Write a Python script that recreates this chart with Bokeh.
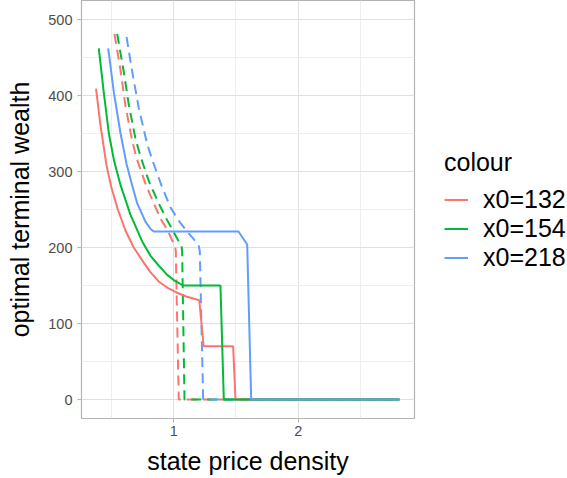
from bokeh.plotting import figure
from bokeh.layouts import row
from bokeh.models import Range1d, FixedTicker, Legend, LegendItem
from bokeh.embed import file_html
from bokeh.resources import INLINE

# ---- data ----
series_labels = ["x0=132", "x0=154", "x0=218"]
series_colors = ["#F8766D", "#00BA38", "#619CFF"]

# solid lines
solid_132_x = [0.375, 0.411, 0.459, 0.50, 0.55, 0.612, 0.678, 0.746, 0.81, 0.88, 0.95, 1.014, 1.10, 1.205, 1.24, 1.477, 1.496, 2.814]
solid_132_y = [409, 360, 308, 278, 250, 222, 200, 183, 168, 155, 147, 141.5, 135.5, 130.5, 70, 70, 0, 0]

solid_154_x = [0.397, 0.437, 0.478, 0.52, 0.572, 0.652, 0.746, 0.813, 0.88, 0.947, 1.01, 1.075, 1.375, 1.402, 2.814]
solid_154_y = [462, 404, 350, 314, 282, 243, 208, 189, 176, 164, 156, 150, 150, 0, 0]

solid_218_x = [0.473, 0.518, 0.572, 0.62, 0.665, 0.706, 0.772, 0.815, 0.839, 1.52, 1.59, 1.622, 2.814]
solid_218_y = [462, 404, 350, 310, 282, 258, 234, 224, 221, 221, 204, 0, 0]

# dashed lines
dashed_132_x = [0.523, 0.572, 0.612, 0.666, 0.70, 0.77, 0.839, 0.90, 0.947, 0.985, 1.01, 1.016, 1.04, 2.814]
dashed_132_y = [481, 433, 386, 340, 318, 285, 258, 236, 224, 210, 203, 195, 0, 0]

dashed_154_x = [0.545, 0.598, 0.638, 0.692, 0.732, 0.80, 0.879, 0.94, 1.0, 1.04, 1.062, 1.067, 1.086, 2.814]
dashed_154_y = [481, 431, 388, 343, 320, 287, 258, 238, 220, 208, 203, 195, 0, 0]

dashed_218_x = [0.62, 0.666, 0.719, 0.786, 0.834, 0.90, 0.973, 1.04, 1.108, 1.16, 1.20, 1.209, 1.236, 2.814]
dashed_218_y = [477, 431, 383, 336, 312, 282, 253, 235, 221, 211, 203, 195, 0, 0]

x_ticks = [1, 2]
x_minor = [0.5, 1.5, 2.5]
y_ticks = [0, 100, 200, 300, 400, 500]
y_minor = [50, 150, 250, 350, 450]

solids = [(solid_132_x, solid_132_y), (solid_154_x, solid_154_y), (solid_218_x, solid_218_y)]
dasheds = [(dashed_132_x, dashed_132_y), (dashed_154_x, dashed_154_y), (dashed_218_x, dashed_218_y)]

FONT = "Liberation Sans"

# ---- main panel ----
p = figure(
    frame_width=333, frame_height=418,
    x_range=Range1d(0.258, 2.935), y_range=Range1d(-25, 525),
    output_backend="svg", toolbar_location=None,
    min_border_left=81, min_border_right=29, min_border_top=0, min_border_bottom=60,
)
p.background_fill_color = "white"
p.border_fill_color = "white"
p.outline_line_color = "#B3B3B3"
p.outline_line_width = 1.2

for (xs, ys), c in zip(dasheds, series_colors):
    p.line(xs, ys, line_color=c, line_width=2, line_dash="10 6")

for (xs, ys), c in zip(solids, series_colors):
    p.line(xs, ys, line_color=c, line_width=2)

p.xaxis.ticker = FixedTicker(ticks=x_ticks, minor_ticks=x_minor)
p.yaxis.ticker = FixedTicker(ticks=y_ticks, minor_ticks=y_minor)

for ax in (p.xaxis, p.yaxis):
    ax.axis_line_color = None
    ax.major_tick_line_color = "#B3B3B3"
    ax.major_tick_out = 4
    ax.major_tick_in = 0
    ax.minor_tick_line_color = None
    ax.major_label_text_font = FONT
    ax.major_label_text_font_size = "14.5px"
    ax.major_label_text_color = "#4D4D4D"
    ax.axis_label_text_font = FONT
    ax.axis_label_text_font_size = "25px"
    ax.axis_label_text_font_style = "normal"
    ax.axis_label_text_color = "black"

p.xaxis.axis_label = "state price density"
p.yaxis.axis_label = "optimal terminal wealth"
p.xaxis.major_label_standoff = 3
p.xaxis.axis_label_standoff = 8
p.yaxis.major_label_standoff = 5
p.yaxis.axis_label_standoff = 11

p.xgrid.grid_line_color = "#E0E0E0"
p.ygrid.grid_line_color = "#E0E0E0"
p.xgrid.grid_line_width = 1
p.ygrid.grid_line_width = 1
p.xgrid.minor_grid_line_color = "#EEEEEE"
p.ygrid.minor_grid_line_color = "#EEEEEE"
p.xgrid.minor_grid_line_width = 1
p.ygrid.minor_grid_line_width = 1

# ---- legend panel (same series, drawn outside its visible range) ----
pl = figure(
    width=124, height=478,
    x_range=Range1d(100, 101), y_range=Range1d(10000, 10001),
    x_axis_type=None, y_axis_type=None,
    output_backend="svg", toolbar_location=None,
    min_border=0,
)
pl.outline_line_color = None
pl.background_fill_color = "white"
pl.border_fill_color = "white"

key_renderers = []
for (xs, ys), c in zip(solids, series_colors):
    key_renderers.append(pl.line(xs, ys, line_color=c, line_width=2))

legend = Legend(
    items=[LegendItem(label=l, renderers=[r]) for l, r in zip(series_labels, key_renderers)],
    title="colour",
    location=(1, 146.5),
    margin=0,
    padding=0,
    spacing=0,
    glyph_width=24,
    glyph_height=29,
    label_height=29,
    label_standoff=15,
    title_standoff=8,
    border_line_color=None,
    background_fill_alpha=0,
    label_text_font=FONT,
    label_text_font_size="25px",
    label_text_color="black",
    title_text_font=FONT,
    title_text_font_size="25px",
    title_text_font_style="normal",
    title_text_color="black",
)
pl.add_layout(legend, "center")

layout = row(p, pl, spacing=0)

open("out.html", "w").write(file_html(layout, INLINE))
